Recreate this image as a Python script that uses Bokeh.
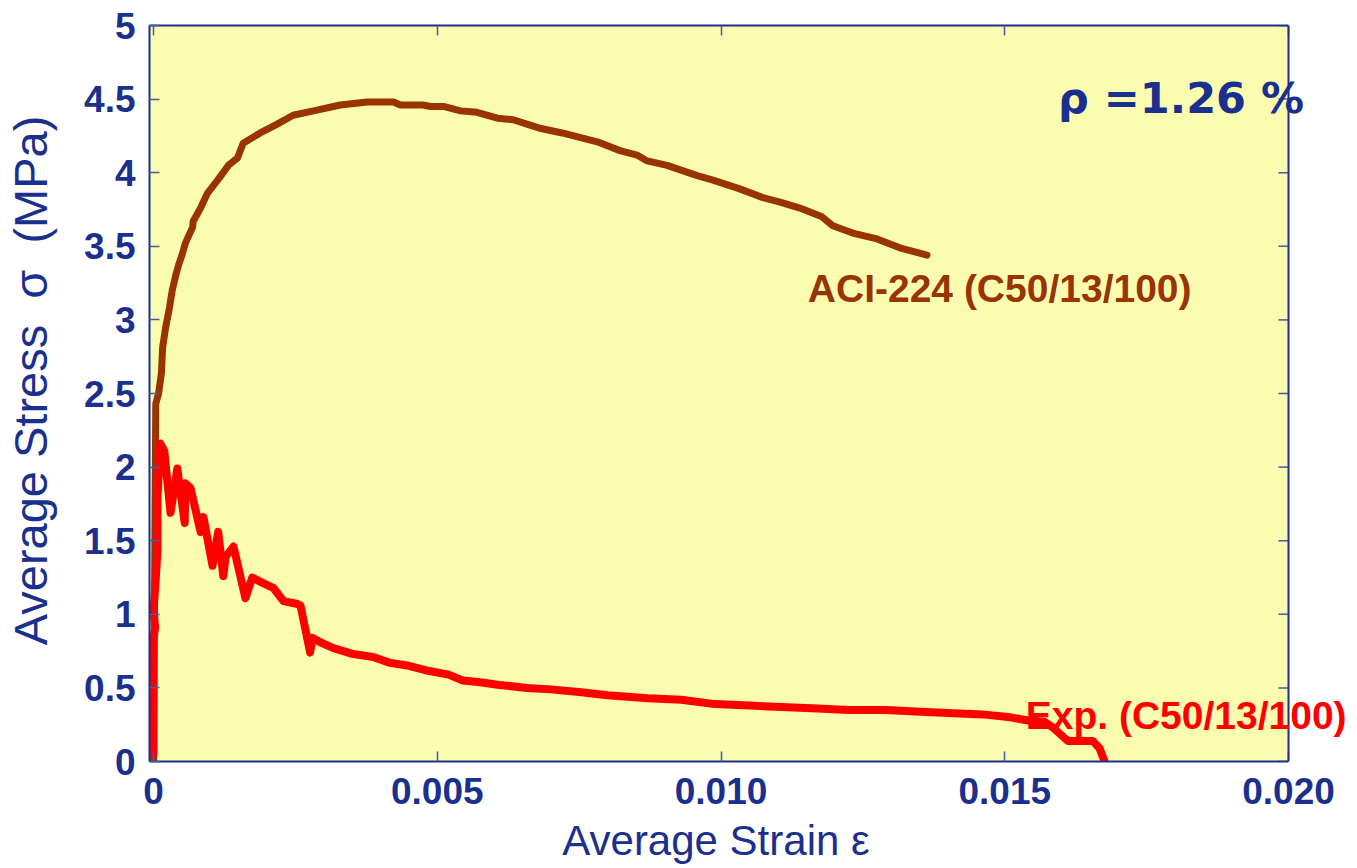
from bokeh.plotting import figure
from bokeh.models import Range1d, LinearAxis, FixedTicker, CustomJSTickFormatter, Label, BoxAnnotation, Span
from bokeh.embed import file_html
from bokeh.resources import INLINE

# ---- data ----
aci_strain = [0.0, 0.00004, 0.00009, 0.00014, 0.00016, 0.00021, 0.00028, 0.00033, 0.00039,
              0.00044, 0.00051, 0.00056, 0.00069, 0.00070, 0.00083, 0.00095, 0.00113, 0.00132,
              0.00148, 0.00158, 0.00188, 0.00218, 0.00246, 0.00282, 0.00329, 0.00377, 0.00423,
              0.00435, 0.00475, 0.00488, 0.00511, 0.00541, 0.00570, 0.00606, 0.00634, 0.00658,
              0.00683, 0.00720, 0.00782, 0.00822, 0.00852, 0.00870, 0.00905, 0.00958, 0.00986,
              0.01033, 0.01074, 0.01104, 0.01139, 0.01178, 0.01197, 0.01232, 0.01275, 0.01315,
              0.01363]
aci_stress = [0.0, 2.43, 2.50, 2.64, 2.81, 2.94, 3.08, 3.20, 3.30,
              3.37, 3.45, 3.52, 3.63, 3.67, 3.76, 3.86, 3.95, 4.05,
              4.10, 4.20, 4.27, 4.33, 4.39, 4.42, 4.46, 4.48, 4.48,
              4.46, 4.46, 4.45, 4.45, 4.42, 4.41, 4.37, 4.36, 4.33,
              4.30, 4.27, 4.21, 4.15, 4.12, 4.08, 4.05, 3.98, 3.95,
              3.89, 3.83, 3.80, 3.76, 3.70, 3.64, 3.59, 3.55, 3.49,
              3.44]

exp_strain = [0.0, 0.0, 0.00003, 0.0, 0.00003, 0.00007, 0.00007, 0.00012, 0.00019, 0.00030,
              0.00042, 0.00055, 0.00056, 0.00065, 0.00083, 0.00088, 0.00104, 0.00114, 0.00123,
              0.00127, 0.00141, 0.00162, 0.00174, 0.00194, 0.00211, 0.00229, 0.00254, 0.00259,
              0.00276, 0.00280, 0.00294, 0.00317, 0.00352, 0.00387, 0.00417, 0.00450, 0.00479,
              0.00520, 0.00545, 0.00572, 0.00610, 0.00658, 0.00700, 0.00754, 0.00800, 0.00871,
              0.00930, 0.00989, 0.01050, 0.01107, 0.01170, 0.01225, 0.01290, 0.01343, 0.01400,
              0.01461, 0.01510, 0.01539, 0.01570, 0.01585, 0.01611, 0.01655, 0.01667, 0.01676]
exp_stress = [0.05, 0.84, 0.91, 1.03, 1.18, 1.43, 1.79, 2.16, 2.11, 1.69,
              1.99, 1.62, 1.89, 1.86, 1.56, 1.66, 1.33, 1.56, 1.26,
              1.39, 1.46, 1.11, 1.25, 1.21, 1.18, 1.09, 1.07, 1.06,
              0.74, 0.84, 0.81, 0.77, 0.73, 0.71, 0.67, 0.65, 0.62,
              0.59, 0.55, 0.54, 0.52, 0.50, 0.49, 0.47, 0.45, 0.43,
              0.42, 0.39, 0.38, 0.37, 0.36, 0.35, 0.35, 0.34, 0.33,
              0.32, 0.30, 0.28, 0.27, 0.23, 0.14, 0.14, 0.09, 0.0]

x_ticks = [0.0, 0.005, 0.010, 0.015, 0.020]
x_tick_labels = ["0", "0.005", "0.010", "0.015", "0.020"]
y_ticks = [0, 0.5, 1, 1.5, 2, 2.5, 3, 3.5, 4, 4.5, 5]
y_tick_labels = ["0", "0.5", "1", "1.5", "2", "2.5", "3", "3.5", "4", "4.5", "5"]

NB = "\u00a0"
x_title = "Average Strain ε" + NB * 6
y_title = NB * 2 + "Average Stress" + NB * 2 + "σ" + NB * 2 + "(MPa)"

NAVY = "#1B2F8E"
BROWN = "#993300"
RED = "#FF0000"
BG = "#FAFDB0"
TICK = "#4A5A9E"

W, H = 1352, 866
LEFT, TOP, BOTTOM = 149, 25, 105
PX_PER_UNIT = 56750.0
x_start = -4 / PX_PER_UNIT
x_end = x_start + (W - LEFT) / PX_PER_UNIT
x_max = x_ticks[-1]

p = figure(width=W, height=H, output_backend="svg", toolbar_location=None,
           x_range=Range1d(x_start, x_end), y_range=Range1d(y_ticks[0], y_ticks[-1]),
           x_axis_label=x_title, y_axis_label=y_title,
           min_border_left=LEFT, min_border_right=0, min_border_top=TOP, min_border_bottom=BOTTOM)
p.background_fill_color = "white"
p.border_fill_color = "white"
p.outline_line_color = None
p.xgrid.visible = False
p.ygrid.visible = False

# yellow plotting box ending at strain 0.020, with its right border
p.add_layout(BoxAnnotation(right=x_max, fill_color=BG, fill_alpha=1.0, line_color=None, level="underlay"))
p.add_layout(Span(location=x_max, dimension="height", line_color=NAVY, line_width=2))

fmt_code = """
for (let i = 0; i < tv.length; i++) { if (Math.abs(tick - tv[i]) < 1e-9) return tl[i]; }
return "";
"""
xfmt = CustomJSTickFormatter(args=dict(tv=x_ticks, tl=x_tick_labels), code=fmt_code)
yfmt = CustomJSTickFormatter(args=dict(tv=y_ticks, tl=y_tick_labels), code=fmt_code)
blank = CustomJSTickFormatter(code="return '';")

def style(ax, ticks, fmt, labels=True):
    ax.ticker = FixedTicker(ticks=ticks)
    ax.formatter = fmt
    ax.major_tick_in = 10
    ax.major_tick_out = 0
    ax.minor_tick_in = 0
    ax.minor_tick_out = 0
    ax.major_tick_line_color = TICK
    ax.major_tick_line_width = 1.5
    ax.axis_line_color = NAVY
    ax.axis_line_width = 2
    ax.major_label_text_font = "Liberation Sans"
    ax.major_label_text_font_style = "bold"
    ax.major_label_text_color = NAVY
    ax.major_label_text_font_size = "37px" if labels else "0px"
    ax.axis_label_text_font = "Liberation Sans"
    ax.axis_label_text_font_style = "normal"
    ax.axis_label_text_color = NAVY

style(p.xaxis[0], x_ticks, xfmt)
style(p.yaxis[0], y_ticks, yfmt)
p.xaxis[0].bounds = (x_start, x_max)
p.xaxis[0].major_label_standoff = 16
p.xaxis[0].axis_label_standoff = 10
p.xaxis[0].axis_label_text_font_size = "42px"
p.yaxis[0].major_label_standoff = 14
p.yaxis[0].axis_label_standoff = 24
p.yaxis[0].axis_label_text_font_size = "47px"

top_ax = LinearAxis()
style(top_ax, x_ticks, blank, labels=False)
top_ax.bounds = (x_start, x_max)
top_ax.major_label_standoff = 0
p.add_layout(top_ax, "above")

# inward ticks on the right border
tick_len = 10 / PX_PER_UNIT
p.segment(x0=[x_max] * len(y_ticks), y0=y_ticks, x1=[x_max - tick_len] * len(y_ticks), y1=y_ticks,
          line_color=TICK, line_width=1.5)

p.line(aci_strain, aci_stress, line_color=BROWN, line_width=7, line_join="round", line_cap="round")
p.line(exp_strain, exp_stress, line_color=RED, line_width=8, line_join="round", line_cap="round")

p.add_layout(Label(x=0.01153, y=3.21, text="ACI-224 (C50/13/100)", text_color=BROWN,
                   text_font="Liberation Sans", text_font_style="bold", text_font_size="39px",
                   text_baseline="alphabetic"))
p.add_layout(Label(x=0.01537, y=0.31, text="Exp. (C50/13/100)", text_color=RED,
                   text_font="Liberation Sans", text_font_style="bold", text_font_size="39px",
                   text_baseline="alphabetic"))
p.add_layout(Label(x=0.01594, y=4.51, text="ρ =1.26 %", text_color=NAVY,
                   text_font="DejaVu Sans", text_font_style="bold", text_font_size="43px",
                   text_baseline="alphabetic"))

open("out.html", "w").write(file_html(p, INLINE))
